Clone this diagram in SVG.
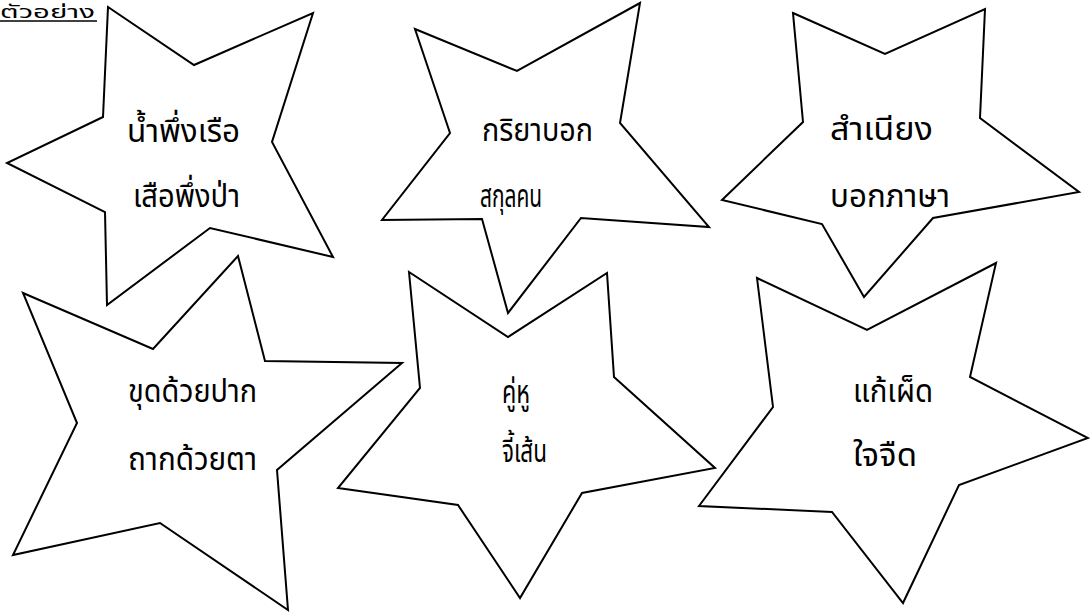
<svg xmlns="http://www.w3.org/2000/svg" width="1090" height="612" viewBox="0 0 1090 612">
<style>
.star{fill:#fff;stroke:#000;stroke-width:2;stroke-linejoin:miter}
.t{font-family:"Noto Sans Thai","Noto Sans","DejaVu Sans",sans-serif;font-size:32px;fill:#000}
.h{font-family:"Noto Sans Thai","Noto Sans","DejaVu Sans",sans-serif;font-size:17px;fill:#000}
</style>
<rect width="1090" height="612" fill="#fff"/>
<g id="header">
<text class="h" x="0" y="18" textLength="95" lengthAdjust="spacingAndGlyphs">ตัวอย่าง</text>
<line x1="0" y1="21" x2="97" y2="21" stroke="#000" stroke-width="1.5"/>
</g>
<g id="star1">
<polygon class="star" points="108,7 194,65 313,13 272,142 333,257 210,228 107,305 105,212 7,163 103,117"/>
<text class="t" x="127" y="142" textLength="113" lengthAdjust="spacingAndGlyphs">น้ำพึ่งเรือ</text>
<text class="t" x="133" y="207" textLength="107" lengthAdjust="spacingAndGlyphs">เสือพึ่งป่า</text>
</g>
<g id="star2">
<polygon class="star" points="415,29 517,71 640,3 620,123 709,227 581,218 508,313 482,219 382,220 450,133"/>
<text class="t" x="482" y="141" textLength="111" lengthAdjust="spacingAndGlyphs">กริยาบอก</text>
<text class="t" x="480" y="207" textLength="62" lengthAdjust="spacingAndGlyphs">สกุลคน</text>
</g>
<g id="star3">
<polygon class="star" points="793,13 885,54 985,9 980,118 1079,192 933,218 864,297 822,224 722,200 803,122"/>
<text class="t" x="830" y="140" textLength="103" lengthAdjust="spacingAndGlyphs">สำเนียง</text>
<text class="t" x="830" y="207" textLength="120" lengthAdjust="spacingAndGlyphs">บอกภาษา</text>
</g>
<g id="star4">
<polygon class="star" points="23,293 153,349 238,256 265,361 402,363 277,470 288,610 160,523 13,555 77,423"/>
<text class="t" x="128" y="402" textLength="129" lengthAdjust="spacingAndGlyphs">ขุดด้วยปาก</text>
<text class="t" x="128" y="470" textLength="129" lengthAdjust="spacingAndGlyphs">ถากด้วยตา</text>
</g>
<g id="star5">
<polygon class="star" points="409,272 508,337 607,273 614,377 715,468 582,493 520,598 458,505 338,488 420,388"/>
<text class="t" x="502" y="403" textLength="28" lengthAdjust="spacingAndGlyphs">คู่หู</text>
<text class="t" x="502" y="462" textLength="45" lengthAdjust="spacingAndGlyphs">จี้เส้น</text>
</g>
<g id="star6">
<polygon class="star" points="757,278 867,330 996,263 970,377 1088,438 959,485 903,603 832,512 699,506 773,407"/>
<text class="t" x="853" y="402" textLength="80" lengthAdjust="spacingAndGlyphs">แก้เผ็ด</text>
<text class="t" x="853" y="466" textLength="64" lengthAdjust="spacingAndGlyphs">ใจจืด</text>
</g>
<g id="connectors"></g>
</svg>
